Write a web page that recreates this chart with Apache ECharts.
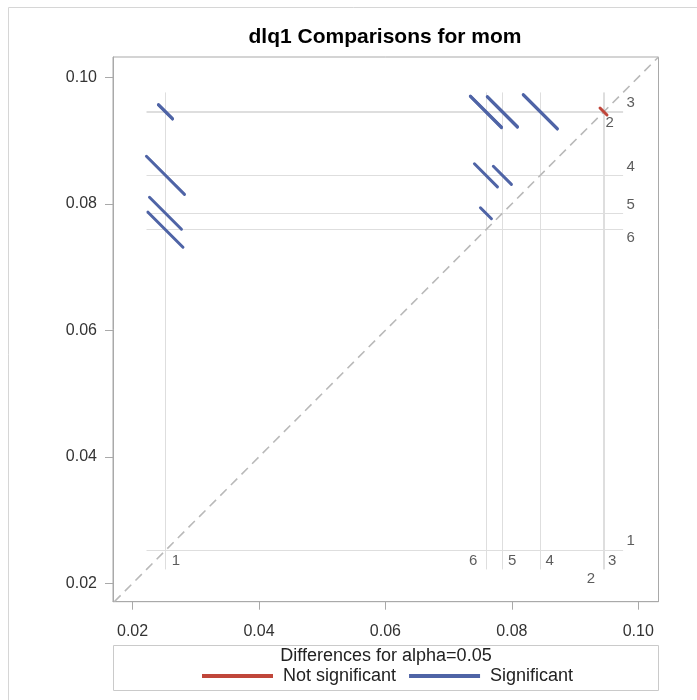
<!DOCTYPE html>
<html><head><meta charset="utf-8">
<script src="https://cdn.jsdelivr.net/npm/echarts@6/dist/echarts.min.js"></script>
<style>html,body{margin:0;padding:0;background:#fff}#c{width:697px;height:700px}</style>
</head><body><div id="c"></div>
<script>
// ---- data ----
const levels = ['1', '2', '3', '4', '5', '6'];
const lsmeans = [0.0252, 0.09458, 0.0945, 0.0845, 0.0785, 0.0759];
// each pairwise comparison: level on x, level on y, half width of the CI segment, significant?
const pairXLevel = ['1', '1', '1', '1', '1', '6', '6', '5', '5', '4', '4', '3', '6', '5', '6'];
const pairYLevel = ['2', '3', '4', '5', '6', '2', '3', '2', '3', '2', '3', '2', '4', '4', '5'];
const pairHalfWidth = [0.00111, 0.00111, 0.00301, 0.00253, 0.00277, 0.00246, 0.00246, 0.00238, 0.00238, 0.00269, 0.00269, 0.00055, 0.00182, 0.00143, 0.00087];
const pairSignificant = [1, 1, 1, 1, 1, 1, 1, 1, 1, 1, 1, 0, 1, 1, 1];
const xTicks = [0.02, 0.04, 0.06, 0.08, 0.10];
const yTicks = [0.02, 0.04, 0.06, 0.08, 0.10];

// ---- layout / style ----
const X_MIN = 0.0169, X_MAX = 0.1032, Y_MIN = 0.0171, Y_MAX = 0.1032;
const REF_LO = 0.0222, REF_HI = 0.0976;
const RIGHT_LABEL_X = 0.0988, BOTTOM_LABEL_Y = 0.02353;
const rightLabelOffset = {'1': [0, -10], '2': [-21, 11], '3': [0, -9], '4': [0, -8], '5': [0, -8], '6': [0, 8]};
const bottomLabelOffset = {'1': [10.5, 0], '2': [-13, 18], '3': [8.7, 0], '4': [9.3, 0], '5': [9.7, 0], '6': [-12.7, 0]};
const BLUE = '#4f64a6', RED = '#c0463a', FRAME = '#a9a9a9', REF = '#dedede';
const FONT = "'Liberation Sans', Arial, sans-serif";

const meanOf = {};
levels.forEach((l, i) => meanOf[l] = lsmeans[i]);

const refLines = [];
levels.forEach(l => {
  const m = meanOf[l];
  refLines.push({coords: [[m, REF_LO], [m, REF_HI]]});
  refLines.push({coords: [[REF_LO, m], [REF_HI, m]]});
});

const sigSegs = [], nsSegs = [];
pairXLevel.forEach((lx, i) => {
  const cx = meanOf[lx], cy = meanOf[pairYLevel[i]], w = pairHalfWidth[i];
  const seg = {coords: [[cx - w, cy + w], [cx + w, cy - w]]};
  (pairSignificant[i] ? sigSegs : nsSegs).push(seg);
});

const labelData = [];
levels.forEach(l => {
  labelData.push({value: [RIGHT_LABEL_X, meanOf[l]], name: l, label: {offset: rightLabelOffset[l]}});
  labelData.push({value: [meanOf[l], BOTTOM_LABEL_Y], name: l, label: {offset: bottomLabelOffset[l]}});
});

const chart = echarts.init(document.getElementById('c'), null, {renderer: 'canvas'});
chart.setOption({
  animation: false,
  backgroundColor: '#fff',
  grid: {left: 113, top: 57, width: 545.5, height: 544.7, show: true, borderColor: FRAME, borderWidth: 1, containLabel: false},
  xAxis: {
    type: 'value', min: X_MIN, max: X_MAX,
    splitLine: {show: false},
    axisLine: {show: true, onZero: false, lineStyle: {color: FRAME}},
    axisTick: {show: true, length: 8, customValues: xTicks, lineStyle: {color: FRAME}},
    axisLabel: {customValues: xTicks, formatter: v => v.toFixed(2), color: '#333', fontSize: 16, fontFamily: FONT, margin: 22}
  },
  yAxis: {
    type: 'value', min: Y_MIN, max: Y_MAX,
    splitLine: {show: false},
    axisLine: {show: true, onZero: false, lineStyle: {color: FRAME}},
    axisTick: {show: true, length: 8, customValues: yTicks, lineStyle: {color: FRAME}},
    axisLabel: {customValues: yTicks, formatter: v => v.toFixed(2), color: '#333', fontSize: 16, fontFamily: FONT, margin: 16}
  },
  legend: {
    left: 202, top: 667, padding: 0, itemWidth: 69, itemHeight: 2, itemGap: 13, icon: 'rect',
    textStyle: {fontSize: 18, fontFamily: FONT, color: '#222', padding: [0, 0, 0, 6]},
    data: [{name: 'Not significant', itemStyle: {color: RED}}, {name: 'Significant', itemStyle: {color: BLUE}}]
  },
  graphic: [
    {type: 'rect', z: -10, shape: {x: 8.5, y: 7.5, width: 720, height: 720}, style: {fill: 'none', stroke: '#d6d6d6', lineWidth: 1}},
    {type: 'text', x: 385, y: 37, style: {text: 'dlq1 Comparisons for mom', font: 'bold 21px ' + FONT, fill: '#000', textAlign: 'center', textVerticalAlign: 'middle'}},
    {type: 'rect', z: -5, shape: {x: 113.5, y: 645.5, width: 545, height: 45}, style: {fill: 'none', stroke: '#cacaca', lineWidth: 1}},
    {type: 'text', x: 386, y: 656, style: {text: 'Differences for alpha=0.05', font: '18px ' + FONT, fill: '#222', textAlign: 'center', textVerticalAlign: 'middle'}}
  ],
  series: [
    {type: 'lines', coordinateSystem: 'cartesian2d', silent: true, z: 1, data: refLines, lineStyle: {color: REF, width: 1, opacity: 1}},
    {type: 'lines', coordinateSystem: 'cartesian2d', silent: true, z: 2, data: [{coords: [[Y_MIN, Y_MIN], [X_MAX, X_MAX]]}], lineStyle: {color: '#b9b9b9', width: 1.6, type: [9, 6], opacity: 1}},
    {name: 'Significant', type: 'lines', coordinateSystem: 'cartesian2d', silent: true, z: 3, data: sigSegs, itemStyle: {color: BLUE}, lineStyle: {color: BLUE, width: 3, opacity: 1, cap: 'round'}},
    {name: 'Not significant', type: 'lines', coordinateSystem: 'cartesian2d', silent: true, z: 4, data: nsSegs, itemStyle: {color: RED}, lineStyle: {color: RED, width: 3, opacity: 1, cap: 'round'}},
    {type: 'scatter', silent: true, z: 5, symbolSize: 0, data: labelData,
     label: {show: true, position: 'inside', formatter: p => p.name, color: '#333', fontSize: 15, fontFamily: FONT}}
  ]
});
</script></body></html>
